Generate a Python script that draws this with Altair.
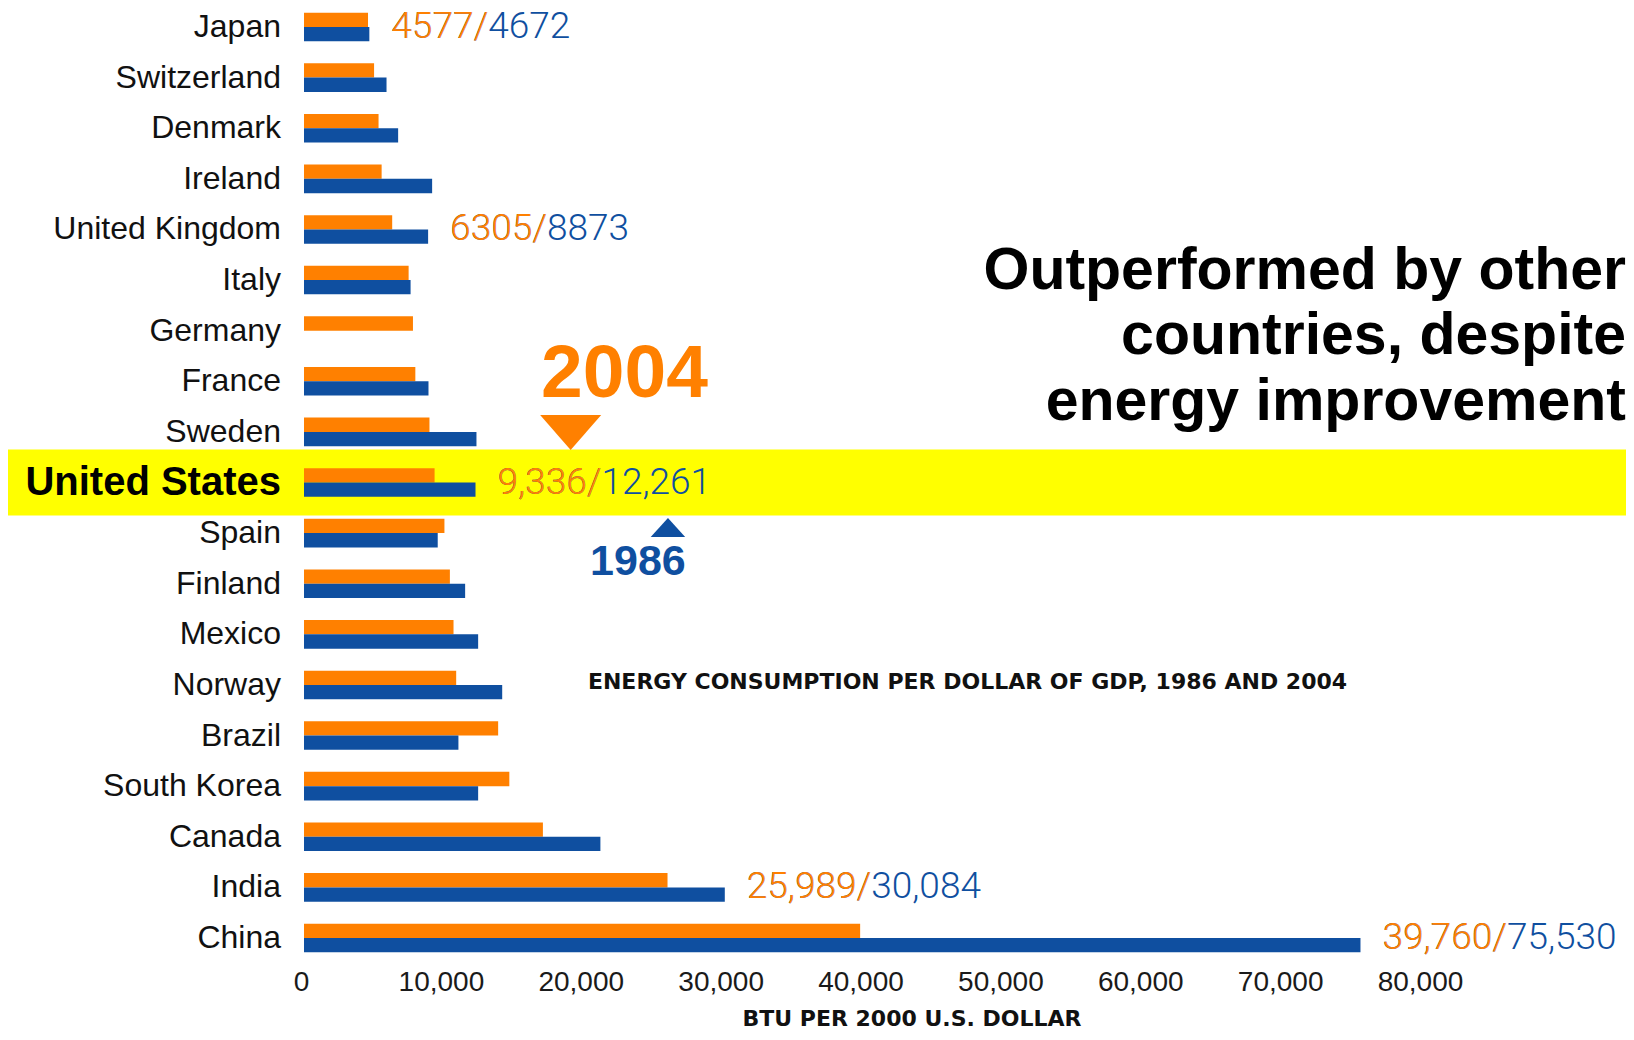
import altair as alt
import pandas as pd

# ---------------- data ----------------
countries = ["Japan", "Switzerland", "Denmark", "Ireland", "United Kingdom", "Italy",
             "Germany", "France", "Sweden", "United States", "Spain", "Finland",
             "Mexico", "Norway", "Brazil", "South Korea", "Canada", "India", "China"]
v2004 = [4577, 5010, 5330, 5550, 6305, 7480, 7790, 7960, 8970, 9336, 10040, 10430,
         10690, 10880, 13880, 14680, 17080, 25989, 39760]
v1986 = [4672, 5900, 6730, 9160, 8873, 7620, None, 8900, 12330, 12261, 9560, 11520,
         12450, 14170, 11040, 12450, 21190, 30084, 75530]

label_countries = ["Japan", "United Kingdom", "United States", "India", "China"]
label_2004 = ["4577", "6305", "9,336", "25,989", "39,760"]
label_1986 = ["4672", "8873", "12,261", "30,084", "75,530"]

x_ticks = [0, 10000, 20000, 30000, 40000, 50000, 60000, 70000, 80000]
highlight = "United States"
heading = "Outperformed by other\ncountries, despite\nenergy improvement"
subtitle = "ENERGY CONSUMPTION PER DOLLAR OF GDP, 1986 AND 2004"
x_title = "BTU PER 2000 U.S. DOLLAR"

# annotation markers (year tags near the highlighted row)
anno_years = ["2004", "1986"]
anno_text_x = [22910, 23875]
anno_tri_x = [19064, 26020]

ORANGE = "#FF8000"
BLUE = "#0F4FA0"
YELLOW = "#FFFF00"
W, H = 1119, 949

# ---------------- tables ----------------
rows = []
for c, a, b in zip(countries, v2004, v1986):
    rows.append({"country": c, "year": "2004", "value": a})
    if b is not None:
        rows.append({"country": c, "year": "1986", "value": b})
bars_df = pd.DataFrame(rows)

vmax = {c: max(a, b if b is not None else 0) for c, a, b in zip(countries, v2004, v1986)}
lab_df = pd.DataFrame({
    "country": label_countries,
    "value": [vmax[c] for c in label_countries],
    "orange": [a + "/" for a in label_2004],
    "full": [a + "/" + b for a, b in zip(label_2004, label_1986)],
})
names_df = pd.DataFrame({"country": [c for c in countries if c != highlight]})
hl_df = pd.DataFrame({"country": [highlight]})

y_enc = alt.Y("country:N", sort=countries,
              scale=alt.Scale(paddingInner=0.435, paddingOuter=0.093), axis=None)
x_enc = alt.X("value:Q", scale=alt.Scale(domain=[0, 80000], nice=False),
              axis=alt.Axis(values=x_ticks, format=",d", title=None, domain=False,
                            ticks=False, tickSize=0, grid=False, labelFont="Liberation Sans",
                            labelFontSize=28, labelColor="#1a1a1a", labelPadding=25,
                            labelBaseline="middle", labelFlush=False, labelOffset=-3))

band = alt.Chart(hl_df).mark_bar(color=YELLOW, height=66).encode(
    y=y_enc, x=alt.value(-297), x2=alt.value(1330))

bars = alt.Chart(bars_df).mark_bar().encode(
    x=x_enc, y=y_enc,
    yOffset=alt.YOffset("year:N", sort=["2004", "1986"]),
    color=alt.Color("year:N", scale=alt.Scale(domain=["2004", "1986"], range=[ORANGE, BLUE]),
                    legend=None))

names = alt.Chart(names_df).mark_text(
    align="right", baseline="middle", font="Liberation Sans", fontSize=32, color="#111111"
).encode(y=y_enc, x=alt.value(-23), text="country:N")

hl_name = alt.Chart(hl_df).mark_text(
    align="right", baseline="middle", font="Liberation Sans", fontSize=40,
    fontWeight="bold", color="#000000"
).encode(y=y_enc, x=alt.value(-23), text="country:N")

lab_blue = alt.Chart(lab_df).mark_text(
    align="left", baseline="middle", dx=22, font="Roboto", fontWeight=300, fontSize=37,
    color=BLUE).encode(x=x_enc, y=y_enc, text="full:N")
lab_orange = alt.Chart(lab_df).mark_text(
    align="left", baseline="middle", dx=22, font="Roboto", fontWeight=300, fontSize=37,
    color=ORANGE).encode(x=x_enc, y=y_enc, text="orange:N")

anno_df = pd.DataFrame({"value": anno_text_x, "text": anno_years})
t2004 = alt.Chart(anno_df.iloc[[0]]).mark_text(
    align="center", baseline="alphabetic", font="Liberation Sans", fontWeight="bold",
    fontSize=75, color=ORANGE).encode(x=x_enc, y=alt.value(389), text="text:N")
t1986 = alt.Chart(anno_df.iloc[[1]]).mark_text(
    align="center", baseline="alphabetic", font="Liberation Sans", fontWeight="bold",
    fontSize=43, color=BLUE).encode(x=x_enc, y=alt.value(567), text="text:N")

tri_df = pd.DataFrame({"value": anno_tri_x, "year": anno_years})
tri_down = alt.Chart(tri_df.iloc[[0]]).mark_point(
    shape="M-1,-0.574L1,-0.574L0,0.574Z", size=3721, filled=True, opacity=1,
    color=ORANGE, strokeWidth=0).encode(x=x_enc, y=alt.value(424.5))
tri_up = alt.Chart(tri_df.iloc[[1]]).mark_point(
    shape="M-1,0.55L1,0.55L0,-0.55Z", size=1190, filled=True, opacity=1,
    color=BLUE, strokeWidth=0).encode(x=x_enc, y=alt.value(519.5))

text_df = pd.DataFrame({"heading": [heading], "sub": [subtitle], "xt": [x_title]})
head = alt.Chart(text_df).mark_text(
    align="right", baseline="alphabetic", lineBreak="\n", lineHeight=65.5,
    font="Liberation Sans", fontWeight="bold", fontSize=59, color="#000000"
).encode(x=alt.value(1322), y=alt.value(280.6), text="heading:N")
sub = alt.Chart(text_df).mark_text(
    align="center", baseline="middle", font="DejaVu Sans", fontWeight="bold",
    fontSize=22, color="#111111"
).encode(x=alt.value(663.5), y=alt.value(674), text="sub:N")
xt = alt.Chart(text_df).mark_text(
    align="center", baseline="alphabetic", font="DejaVu Sans", fontWeight="bold",
    fontSize=22, color="#111111"
).encode(x=alt.value(608), y=alt.value(1018), text="xt:N")

chart = alt.layer(
    band, bars, names, hl_name, lab_blue, lab_orange,
    t2004, t1986, tri_down, tri_up, head, sub, xt
).properties(
    width=W, height=H,
    padding={"left": 296, "top": 0, "right": 203, "bottom": 75},
    autosize=alt.AutoSizeParams(type="none"),
    background="white",
).configure_view(stroke=None)

chart.save("out.html", embed_options={"renderer": "svg", "actions": False})
